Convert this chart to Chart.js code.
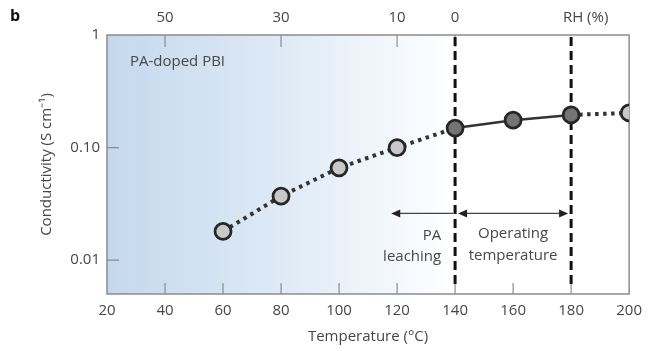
<!DOCTYPE html>
<html lang="en">
<head>
    <meta charset="UTF-8">
    <title>PA-doped PBI conductivity</title>
    <style>
        body {
            margin: 0;
            background-color: #ffffff;
        }
        .chart-box {
            width: 650px;
            height: 351px;
        }
    </style>
    <script src="https://cdn.jsdelivr.net/npm/chart.js"></script>
</head>
<body>
    <div class="chart-box">
        <canvas id="condChart" width="650" height="351"></canvas>
    </div>

    <script>
        // data
        const temperatures = [60, 80, 100, 120, 140, 160, 180, 200];
        const conductivity = [0.018, 0.037, 0.066, 0.10, 0.149, 0.175, 0.195, 0.203];
        const xTicks = [20, 40, 60, 80, 100, 120, 140, 160, 180, 200];
        const yTicks = [0.01, 0.1, 1];
        const yTickLabels = ['0.01', '0.10', '1'];
        const rhTemps = [40, 80, 120, 140];
        const rhLabels = ['50', '30', '10', '0'];
        const limitTemps = [140, 180];

        const FONT = "'Open Sans', sans-serif";
        const TEXT = '#474747';
        const FRAME = '#8c8c8c';

        const lightFill = '#c8c8c8';
        const darkFill = '#747474';
        const pointFills = temperatures.map((t, i) => (i >= 4 && i <= 6) ? darkFill : lightFill);

        function inSolid(ctx) {
            return ctx.p0DataIndex >= 4 && ctx.p1DataIndex <= 6;
        }

        const decorPlugin = {
            id: 'decor',
            beforeDraw(chart) {
                const c = chart.ctx;
                const a = chart.chartArea;
                const x = chart.scales.x;
                const xEnd = x.getPixelForValue(140);
                const g = c.createLinearGradient(a.left, 0, xEnd, 0);
                g.addColorStop(0, 'rgb(196,216,237)');
                g.addColorStop(0.5, 'rgb(222,234,246)');
                g.addColorStop(1, 'rgb(255,255,255)');
                c.save();
                c.fillStyle = g;
                c.fillRect(a.left, a.top, xEnd - a.left, a.bottom - a.top);
                c.restore();
            },
            beforeDatasetsDraw(chart) {
                const c = chart.ctx;
                const a = chart.chartArea;
                const x = chart.scales.x;
                const y = chart.scales.y;
                c.save();

                // frame
                c.strokeStyle = FRAME;
                c.lineWidth = 1.5;
                c.strokeRect(a.left, a.top, a.right - a.left, a.bottom - a.top);

                // inner tick marks
                c.lineWidth = 1.2;
                c.beginPath();
                xTicks.slice(1, -1).forEach(v => {
                    const px = x.getPixelForValue(v);
                    c.moveTo(px, a.bottom);
                    c.lineTo(px, a.bottom - 11);
                });
                yTicks.slice(0, 2).forEach(v => {
                    const py = y.getPixelForValue(v);
                    c.moveTo(a.left, py);
                    c.lineTo(a.left + 12, py);
                });
                rhTemps.forEach(v => {
                    const px = x.getPixelForValue(v);
                    c.moveTo(px, a.top);
                    c.lineTo(px, a.top + 12);
                });
                c.stroke();

                // dashed limits at 140 and 180 C
                c.strokeStyle = '#111111';
                c.lineWidth = 3;
                c.setLineDash([9, 5]);
                limitTemps.forEach(t => {
                    const px = x.getPixelForValue(t);
                    c.beginPath();
                    c.moveTo(px, a.top + 2);
                    c.lineTo(px, a.bottom - 8);
                    c.stroke();
                });
                c.setLineDash([]);

                // arrows
                const ay = y.getPixelForValue(0.026);
                const x118 = x.getPixelForValue(118);
                const x140 = x.getPixelForValue(140);
                const x180 = x.getPixelForValue(180);
                c.strokeStyle = '#444444';
                c.fillStyle = '#222222';
                c.lineWidth = 1.4;
                c.beginPath();
                c.moveTo(x118 + 4, ay);
                c.lineTo(x140 - 2, ay);
                c.moveTo(x140 + 6, ay);
                c.lineTo(x180 - 6, ay);
                c.stroke();
                function head(px, dir) {
                    c.beginPath();
                    c.moveTo(px, ay);
                    c.lineTo(px + dir * 9, ay - 4);
                    c.lineTo(px + dir * 9, ay + 4);
                    c.closePath();
                    c.fill();
                }
                head(x118, 1);
                head(x140 + 3, 1);
                head(x180 - 3, -1);

                // annotations
                c.fillStyle = TEXT;
                c.font = '15px ' + FONT;
                c.textBaseline = 'middle';
                c.textAlign = 'right';
                c.fillText('PA', x.getPixelForValue(135.2), ay + 22);
                c.fillText('leaching', x.getPixelForValue(135.2), ay + 43);
                c.textAlign = 'center';
                c.fillText('Operating', x.getPixelForValue(160), ay + 20);
                c.fillText('temperature', x.getPixelForValue(160), ay + 42);
                c.textAlign = 'left';
                c.fillText('PA-doped PBI', x.getPixelForValue(27.9), y.getPixelForValue(0.575));

                // panel letter
                c.fillStyle = '#111111';
                c.font = 'bold 16px ' + FONT;
                c.fillText('b', 10, 16);
                c.restore();
            }
        };

        const ctx = document.getElementById('condChart').getContext('2d');
        const condChart = new Chart(ctx, {
            type: 'line',
            data: {
                labels: temperatures,
                datasets: [{
                    label: 'Conductivity',
                    data: temperatures.map((t, i) => ({ x: t, y: conductivity[i] })),
                    borderColor: '#333333',
                    borderWidth: 4,
                    borderCapStyle: 'butt',
                    tension: 0,
                    pointRadius: 8,
                    pointHoverRadius: 8,
                    pointBorderWidth: 2.8,
                    pointBorderColor: '#262626',
                    pointBackgroundColor: pointFills,
                    segment: {
                        borderDash: c => inSolid(c) ? [] : [3.5, 4.5],
                        borderWidth: c => inSolid(c) ? 2.5 : 4
                    }
                }]
            },
            options: {
                responsive: false,
                animation: false,
                layout: { padding: { left: 0, right: 18, top: 0, bottom: 0 } },
                plugins: {
                    legend: { display: false },
                    tooltip: { enabled: false }
                },
                scales: {
                    x: {
                        type: 'linear',
                        position: 'bottom',
                        min: 20,
                        max: 200,
                        grid: { display: false, drawTicks: false },
                        border: { display: false },
                        afterBuildTicks: s => { s.ticks = xTicks.map(v => ({ value: v })); },
                        afterFit: s => { s.height = 57; },
                        ticks: {
                            padding: 8,
                            maxRotation: 0,
                            autoSkip: false,
                            color: TEXT,
                            font: { family: FONT, size: 15 }
                        },
                        title: {
                            display: true,
                            text: 'Temperature (°C)',
                            color: TEXT,
                            padding: { top: 0, bottom: 5 },
                            font: { family: FONT, size: 15 }
                        }
                    },
                    x2: {
                        type: 'linear',
                        position: 'top',
                        min: 20,
                        max: 200,
                        grid: { display: false, drawTicks: false },
                        border: { display: false },
                        afterBuildTicks: s => {
                            s.ticks = rhTemps.map(v => ({ value: v })).concat([{ value: 185 }]);
                        },
                        afterFit: s => { s.height = 35; },
                        ticks: {
                            padding: 8,
                            maxRotation: 0,
                            autoSkip: false,
                            color: TEXT,
                            font: { family: FONT, size: 15 },
                            callback: (v, i) => i < rhLabels.length ? rhLabels[i] : 'RH (%)'
                        }
                    },
                    y: {
                        type: 'logarithmic',
                        position: 'left',
                        min: 0.005,
                        max: 1,
                        grid: { display: false, drawTicks: false },
                        border: { display: false },
                        afterBuildTicks: s => { s.ticks = yTicks.map(v => ({ value: v })); },
                        afterFit: s => { s.width = 107; },
                        ticks: {
                            padding: 7,
                            autoSkip: false,
                            color: TEXT,
                            font: { family: FONT, size: 15 },
                            callback: (v, i) => yTickLabels[i]
                        },
                        title: {
                            display: true,
                            text: 'Conductivity (S cm⁻¹)',
                            color: TEXT,
                            padding: { top: 38, bottom: 0 },
                            font: { family: FONT, size: 15 }
                        }
                    }
                }
            },
            plugins: [decorPlugin]
        });
    </script>
</body>
</html>
